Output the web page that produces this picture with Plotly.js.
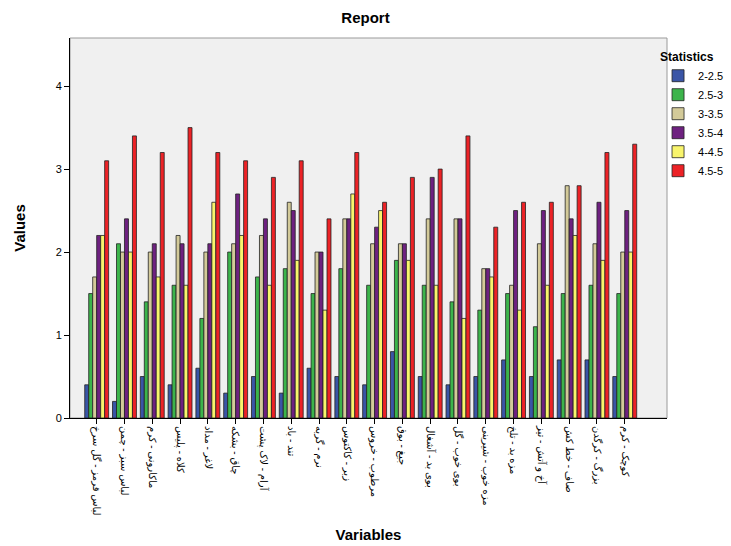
<!DOCTYPE html>
<html>
<head>
<meta charset="utf-8">
<script src="https://cdn.plot.ly/plotly-3.0.1.min.js"></script>
<style>html,body{margin:0;padding:0;background:#fff;}#chart{width:731px;height:546px;}</style>
</head>
<body>
<div id="chart"></div>
<script>
const categories = [
  "لباس قرمز - گل سرخ",
  "لباس سبز - چمن",
  "ماکارونی - کرم",
  "کلاه - پلیس",
  "لاغر - مداد",
  "چاق - بشکه",
  "آرام - لاک پشت",
  "تند - باد",
  "نرم - گربه",
  "زبر - کاکتوس",
  "مرطوب - خروس",
  "جیغ - بوق",
  "بوی بد - آشغال",
  "بوی خوب - گل",
  "مزه خوب - شیرینی",
  "مزه بد - تلخ",
  "آخ و آتش - تیز",
  "صاف - خط کش",
  "بزرگ - کرگدن",
  "کوچک - کرم"
];
const seriesNames = ["2-2.5", "2.5-3", "3-3.5", "3.5-4", "4-4.5", "4.5-5"];
const s2_25  = [0.4, 0.2, 0.5, 0.4, 0.6, 0.3, 0.5, 0.3, 0.6, 0.5, 0.4, 0.8, 0.5, 0.4, 0.5, 0.7, 0.5, 0.7, 0.7, 0.5];
const s25_3  = [1.5, 2.1, 1.4, 1.6, 1.2, 2.0, 1.7, 1.8, 1.5, 1.8, 1.6, 1.9, 1.6, 1.4, 1.3, 1.5, 1.1, 1.5, 1.6, 1.5];
const s3_35  = [1.7, 2.0, 2.0, 2.2, 2.0, 2.1, 2.2, 2.6, 2.0, 2.4, 2.1, 2.1, 2.4, 2.4, 1.8, 1.6, 2.1, 2.8, 2.1, 2.0];
const s35_4  = [2.2, 2.4, 2.1, 2.1, 2.1, 2.7, 2.4, 2.5, 2.0, 2.4, 2.3, 2.1, 2.9, 2.4, 1.8, 2.5, 2.5, 2.4, 2.6, 2.5];
const s4_45  = [2.2, 2.0, 1.7, 1.6, 2.6, 2.2, 1.6, 1.9, 1.3, 2.7, 2.5, 1.9, 1.6, 1.2, 1.7, 1.3, 1.6, 2.2, 1.9, 2.0];
const s45_5  = [3.1, 3.4, 3.2, 3.5, 3.2, 3.1, 2.9, 3.1, 2.4, 3.2, 2.6, 2.9, 3.0, 3.4, 2.3, 2.6, 2.6, 2.8, 3.2, 3.3];
const yTicks = [0, 1, 2, 3, 4];
const colors = ["#3a55a6", "#3cb44b", "#d3ca99", "#6e2180", "#f8f46c", "#ec2226"];

const allSeries = [s2_25, s25_3, s3_35, s35_4, s4_45, s45_5];
const traces = allSeries.map((vals, i) => ({
  type: "bar",
  name: seriesNames[i],
  x: categories,
  y: vals,
  marker: {color: colors[i], line: {color: "#222222", width: 0.8}},
  hoverinfo: "x+y+name"
}));

const fontFam = "Liberation Sans, Arial, DejaVu Sans, sans-serif";
const layout = {
  width: 731,
  height: 546,
  margin: {l: 70, r: 64, t: 38, b: 128, autoexpand: false},
  paper_bgcolor: "#ffffff",
  plot_bgcolor: "#f0f0f0",
  font: {family: fontFam, size: 11, color: "#000"},
  title: {text: "<b>Report</b>", font: {size: 15, family: fontFam, color: "#000"}, x: 0.5, xanchor: "center", y: 0.967, yanchor: "middle"},
  barmode: "group",
  bargap: 0.14,
  bargroupgap: 0,
  xaxis: {
    type: "category",
    range: [-0.96, 20.52],
    autorange: false,
    tickangle: 90,
    ticks: "outside",
    ticklen: 5,
    tickcolor: "#000",
    showline: true,
    linecolor: "#000",
    linewidth: 1,
    showgrid: false,
    tickfont: {size: 10, family: fontFam, color: "#000"},
    title: {text: "<b>Variables</b>", font: {size: 15, family: fontFam, color: "#000"}, standoff: 14},
    automargin: false
  },
  yaxis: {
    range: [0, 4.58],
    autorange: false,
    tickvals: yTicks,
    ticktext: yTicks.map(String),
    ticks: "outside",
    ticklen: 5,
    tickcolor: "#000",
    showline: true,
    linecolor: "#000",
    linewidth: 1,
    showgrid: false,
    zeroline: false,
    tickfont: {size: 11, family: fontFam, color: "#000"},
    title: {text: "<b>Values</b>", font: {size: 15, family: fontFam, color: "#000"}, standoff: 26},
    automargin: false
  },
  shapes: [{
    type: "rect", xref: "paper", yref: "paper", x0: 0, x1: 1, y0: 0, y1: 1,
    line: {color: "#9a9a9a", width: 1}, fillcolor: "rgba(0,0,0,0)", layer: "below"
  }],
  legend: {
    x: 0.985, xanchor: "left",
    y: 0.98, yanchor: "top",
    bgcolor: "rgba(0,0,0,0)",
    borderwidth: 0,
    itemwidth: 30,
    tracegroupgap: 0,
    font: {size: 11, family: fontFam, color: "#000"},
    title: {text: "<b>Statistics</b>", side: "top", font: {size: 12, family: fontFam, color: "#000"}}
  },
  showlegend: true
};

Plotly.newPlot("chart", traces, layout, {displayModeBar: false, staticPlot: true});
</script>
</body>
</html>
